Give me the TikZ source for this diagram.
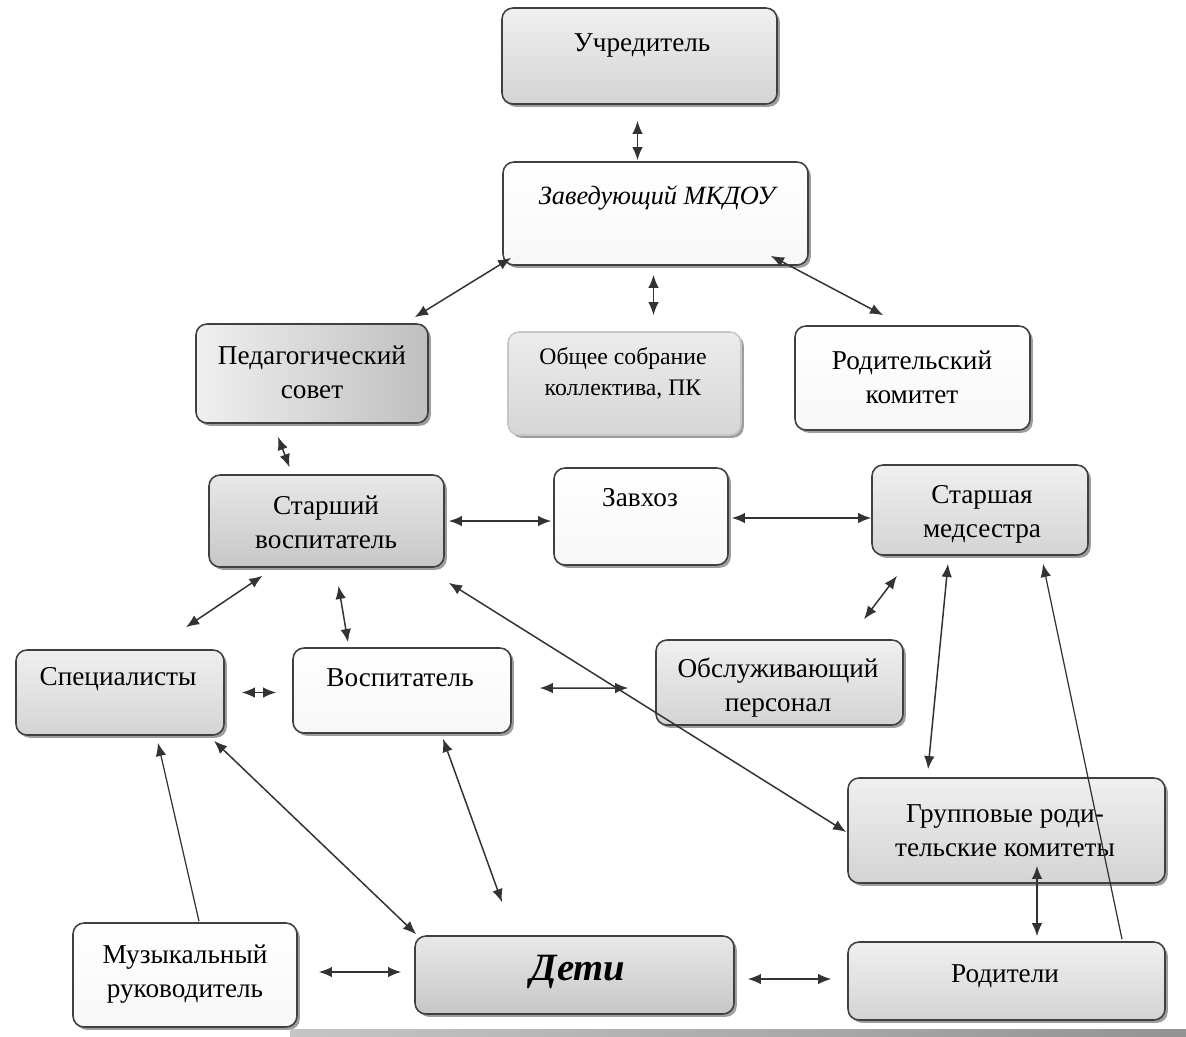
\documentclass[tikz,border=0pt]{standalone}
\usepackage{fontspec}
\setmainfont{Liberation Serif}
\usetikzlibrary{arrows.meta,calc,fit,shadows}

\tikzset{
  box/.style={draw=black!75, line width=0.9pt, rounded corners=0.22cm, inner sep=0pt,
    drop shadow={shadow xshift=1.6pt, shadow yshift=-1.6pt, fill=black!55, opacity=0.7}},
  greybox/.style={box, top color=gray!12, bottom color=gray!34},
  darkbox/.style={box, top color=gray!18, bottom color=gray!44},
  palebox/.style={box, top color=white, bottom color=gray!6},
  txt/.style={align=center, inner sep=0pt, font=\fontsize{15.5}{19.5}\selectfont},
  biarr/.style={{Latex[length=7.5pt,width=6pt]}-{Latex[length=7.5pt,width=6pt]}, line width=0.85pt, draw=black!80},
  onearr/.style={-{Latex[length=7.5pt,width=6pt]}, line width=0.7pt, draw=black!80}
}

\begin{document}
\begin{tikzpicture}[x=0.02cm, y=-0.02cm]
  \useasboundingbox (0,0) rectangle (1186,1036);

  % boxes
  \node[greybox, fit={(502,8) (777,104)}] (uch) {};
  \node[palebox, fit={(503,162) (808,265)}] (zav) {};
  \node[box, left color=gray!12, right color=gray!50, fit={(196,324) (428,423)}] (ped) {};
  \node[box, draw=gray!45, top color=gray!15, bottom color=gray!32, fit={(508,332) (741,435)}] (obs) {};
  \node[palebox, fit={(795,326) (1030,430)}] (rod) {};
  \node[darkbox, fit={(209,475) (444,567)}] (star) {};
  \node[palebox, fit={(554,468) (728,565)}] (zavh) {};
  \node[greybox, fit={(872,465) (1088,555)}] (med) {};
  \node[greybox, fit={(16,650) (224,735)}] (spec) {};
  \node[palebox, fit={(293,648) (511,733)}] (vos) {};
  \node[greybox, fit={(656,640) (903,725)}] (obsl) {};
  \node[greybox, fit={(848,778) (1165,883)}] (grp) {};
  \node[palebox, fit={(73,923) (297,1027)}] (mus) {};
  \node[darkbox, fit={(415,936) (734,1014)}] (deti) {};
  \node[greybox, fit={(848,942) (1165,1020)}] (roditeli) {};

  % texts
  \node[txt] (uch-t) at (642,45) {Учредитель};
  \node[txt, font=\fontsize{15}{19}\selectfont\itshape] (zav-t) at (657,198) {Заведующий МКДОУ};
  \node[txt] (ped-t) at (312,372) {Педагогический\\совет};
  \node[txt, font=\fontsize{13.5}{17.5}\selectfont] (obs-t) at (623,373) {Общее собрание\\коллектива, ПК};
  \node[txt] (rod-t) at (912,377) {Родительский\\комитет};
  \node[txt] (star-t) at (326,522) {Старший\\воспитатель};
  \node[txt] (zavh-t) at (640,498) {Завхоз};
  \node[txt] (med-t) at (982,514) {Старшая\\медсестра};
  \node[txt] (spec-t) at (118,679) {Специалисты};
  \node[txt] (vos-t) at (400,678) {Воспитатель};
  \node[txt] (obsl-t) at (778,688) {Обслуживающий\\персонал};
  \node[txt] (grp-t) at (1005,831) {Групповые роди-\\тельские комитеты};
  \node[txt] (mus-t) at (185,974) {Музыкальный\\руководитель};
  \node[txt, font=\fontsize{22}{26}\selectfont\bfseries\itshape] (deti-t) at (578,972) {Дети};
  \node[txt] (roditeli-t) at (1005,976) {Родители};

  % connectors
  \draw[biarr] ($(uch.south)+(-2,16)$) -- ($(zav.north)+(-18,-1)$);
  \draw[biarr] ($(zav.south west)+(9,-8)$) -- ($(ped.north east)+(-14,-6)$);
  \draw[biarr] ($(zav.south)+(-2,9)$) -- ($(obs.north)+(29,-16)$);
  \draw[biarr] ($(zav.south east)+(-38,-10)$) -- ($(rod.north west)+(89,-10)$);
  \draw[biarr] ($(ped.south)+(-34,13)$) -- ($(star.north)+(-37,-7)$);
  \draw[biarr] ($(star.east)+(4,0)$) -- ($(star.east -| zavh.west)+(-2,0)$);
  \draw[biarr] ($(zavh.east)+(3,1.5)$) -- ($(med.west)+(0,8)$);
  \draw[biarr] ($(star.south)+(-64,8)$) -- ($(spec.north)+(66,-22)$);
  \draw[biarr] ($(star.south)+(12,18)$) -- ($(vos.north)+(-54,-5)$);
  \draw[biarr] ($(star.south east)+(4,15)$) -- ($(grp.west)+(-1,1.5)$);
  \draw[biarr] ($(med.south)+(-83,20)$) -- ($(obsl.north)+(84.5,-20)$);
  \draw[biarr] ($(med.south)+(-32,8)$) -- ($(grp.north)+(-78.5,-8)$);
  \draw[onearr] ($(roditeli.north)+(115.5,-2)$) -- ($(med.south)+(63,8)$);
  \draw[biarr] ($(spec.east)+(17,0)$) -- ($(vos.west)+(-16,2)$);
  \draw[biarr] ($(vos.east)+(28,-2.5)$) -- ($(obsl.west)+(-27,5.5)$);
  \draw[onearr] ($(mus.north)+(14,-1)$) -- ($(spec.south)+(38,7)$);
  \draw[biarr] ($(spec.south)+(94,5)$) -- ($(deti.north west)+(2,-1)$);
  \draw[biarr] ($(vos.south)+(41,5)$) -- ($(deti.north)+(-72.5,-33)$);
  \draw[biarr] ($(grp.south)+(30.5,-18)$) -- ($(roditeli.north)+(30.5,-5)$);
  \draw[biarr] ($(mus.east)+(21,-3)$) -- ($(deti.west)+(-13,-3)$);
  \draw[biarr] ($(deti.east)+(13,4)$) -- ($(roditeli.west)+(-16,-2)$);

  \fill[left color=gray!45, right color=gray!85] (290,1029) rectangle (1186,1036);

\end{tikzpicture}
\end{document}
